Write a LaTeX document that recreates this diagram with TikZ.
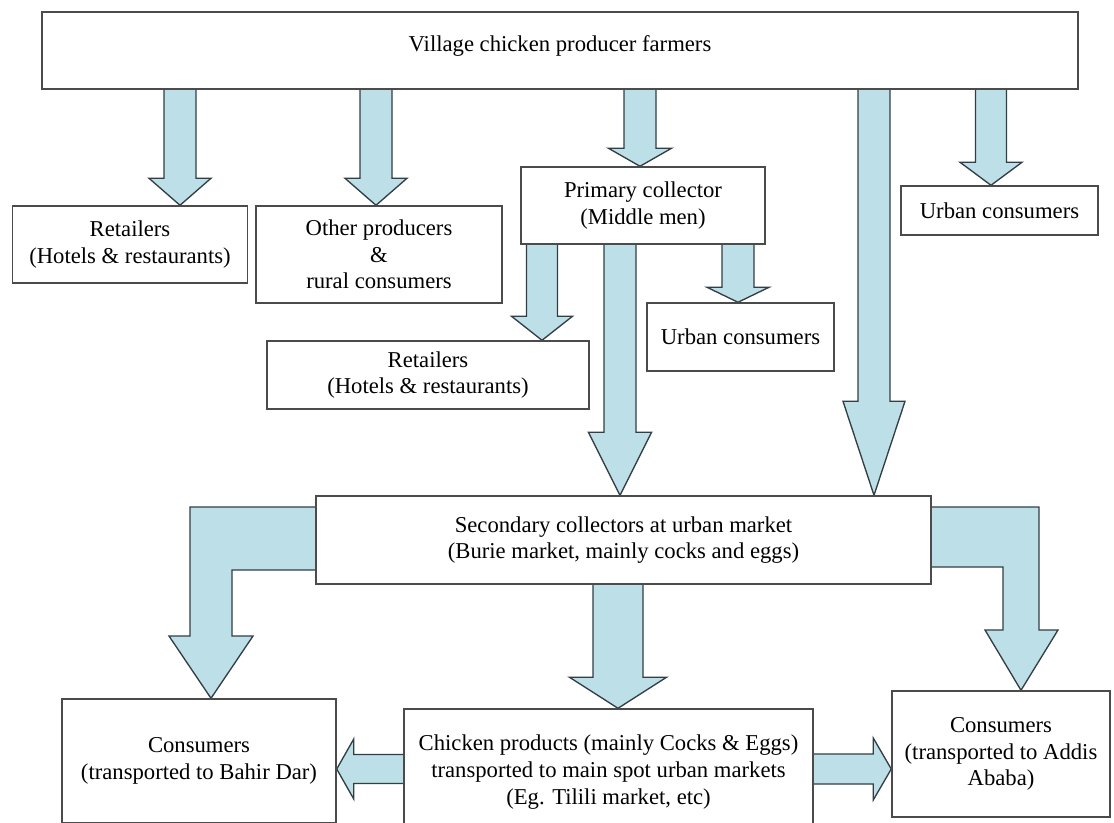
\documentclass[tikz,border=0pt]{standalone}
\usepackage{fontspec}
\setmainfont{Liberation Serif}
\usetikzlibrary{calc,backgrounds}
\definecolor{arrowfill}{RGB}{189,224,232}
\definecolor{arrowline}{RGB}{50,62,68}
\definecolor{boxline}{RGB}{75,75,75}
\tikzset{
  box/.style={draw=boxline, line width=1.1pt, fill=white, align=center, inner sep=0pt,
    font=\fontsize{17}{20}\selectfont},
  boxsize/.style 2 args={minimum width=#1*0.75pt, minimum height=#2*0.75pt},
  blockarrow/.style={draw=arrowline, fill=arrowfill, line width=1pt, line join=miter}
}
% down block arrow: x, from, to, half shaft, half head, head length
\newcommand{\vblock}[6]{%
  \coordinate (bs) at (#2 -| #1,0);
  \coordinate (bt) at (#3 -| #1,0);
  \draw[blockarrow] ($(bs)+(-#4,0)$) -- ($(bt)+(-#4,-#6)$) -- ($(bt)+(-#5,-#6)$) -- (bt)
    -- ($(bt)+(#5,-#6)$) -- ($(bt)+(#4,-#6)$) -- ($(bs)+(#4,0)$);
}
% side block arrow: y, from, to, half shaft, half head, head length (signed)
\newcommand{\hblock}[6]{%
  \coordinate (bs) at (#2 |- 0,#1);
  \coordinate (bt) at (#3 |- 0,#1);
  \draw[blockarrow] ($(bs)+(0,-#4)$) -- ($(bt)-(#6,#4)$) -- ($(bt)-(#6,#5)$) -- (bt)
    -- ($(bt)-(#6,-#5)$) -- ($(bt)-(#6,-#4)$) -- ($(bs)+(0,#4)$);
}
\begin{document}
\begin{tikzpicture}[x=0.75pt,y=-0.75pt]
  \useasboundingbox (0,0) rectangle (1114,822);
  \node[box, boxsize={1036}{77}, text depth=11pt] (farmers) at (560,50.5) {Village chicken producer farmers};
  \node[box, boxsize={235}{77}] (retail1) at (130,244.5) {Retailers\\(Hotels \& restaurants)};
  \node[box, boxsize={246}{97}] (rural) at (379,254.5) {Other producers\\\&\\rural consumers};
  \node[box, boxsize={244}{77}] (primary) at (643,205.5) {Primary collector\\(Middle men)};
  \node[box, boxsize={197}{49}] (urban1) at (999.5,210.5) {Urban consumers};
  \node[box, boxsize={322}{68}] (retail2) at (428,375) {Retailers\\(Hotels \& restaurants)};
  \node[box, boxsize={187}{68}] (urban2) at (740.5,337) {Urban consumers};
  \node[box, boxsize={615}{88}] (secondary) at (623.5,540)
    {Secondary collectors at urban market\\(Burie market, mainly cocks and eggs)};
  \node[box, boxsize={274}{124}] (bahirdar) at (199,761) {Consumers\\(transported to Bahir Dar)};
  \node[box, boxsize={409}{126}] (spotmarket) at (608.5,772)
    {Chicken products (mainly Cocks \& Eggs)\\transported to main spot urban markets\\(Eg. Tilili market, etc)};
  \node[box, boxsize={218}{126}] (addis) at (1001,754) {Consumers\\(transported to Addis\\Ababa)};
  \begin{scope}[on background layer]
    \vblock{180}{farmers.south}{retail1.north}{16}{31}{27}
    \vblock{376}{farmers.south}{rural.north}{16}{31}{27}
    \vblock{640}{farmers.south}{primary.north}{16}{31.5}{18}
    \vblock{874}{farmers.south}{secondary.north}{16}{31}{94}
    \vblock{991}{farmers.south}{urban1.north}{15.5}{31}{23}
    \vblock{542}{primary.south}{retail2.north}{15.5}{30.5}{24}
    \vblock{620}{primary.south}{secondary.north}{16}{31.5}{63}
    \vblock{738}{primary.south}{urban2.north}{16}{31}{15}
    \vblock{618}{secondary.south}{spotmarket.north}{25}{48.5}{31}
    \hblock{769}{spotmarket.west}{bahirdar.east}{14.5}{30}{-17}
    \hblock{769}{spotmarket.east}{addis.west}{15}{31}{18}
    \draw[blockarrow] (secondary.west |- 0,507) -| (190,636) -- (169,636) -- (bahirdar.north -| 211,0)
      -- (253,636) -- (232,636) |- (secondary.west |- 0,570);
    \draw[blockarrow] (secondary.east |- 0,507) -| (1039,630) -- (1058,630) -- (addis.north -| 1021,0)
      -- (985,630) -- (1003,630) |- (secondary.east |- 0,567);
  \end{scope}
\end{tikzpicture}
\end{document}
